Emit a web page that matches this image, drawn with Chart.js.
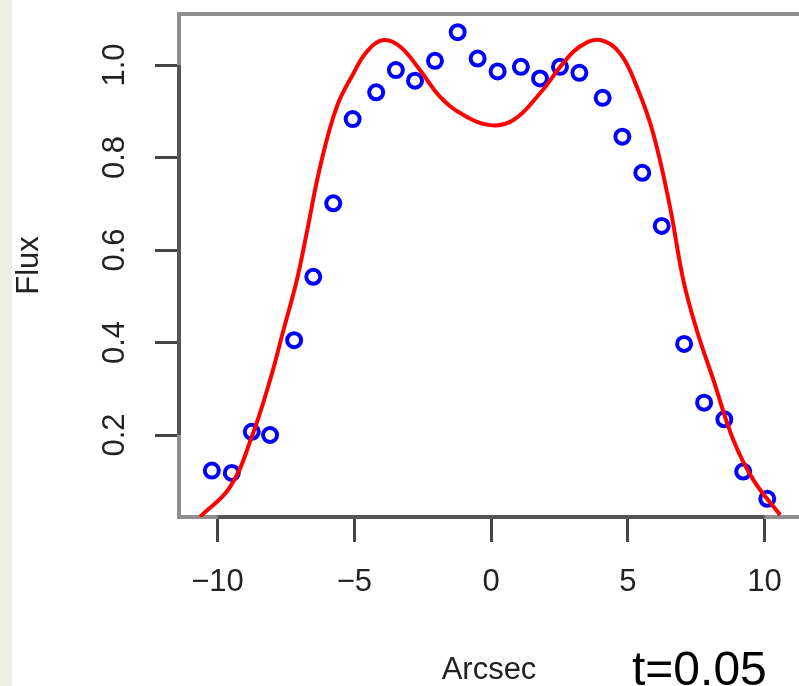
<!DOCTYPE html>
<html><head><meta charset="utf-8">
<script src="https://cdn.jsdelivr.net/npm/chart.js@4/dist/chart.umd.min.js"></script>
<style>html,body{margin:0;padding:0;background:#fff;overflow:hidden}canvas{display:block}</style>
</head><body>
<canvas id="c" width="799" height="686" style="width:799px;height:686px"></canvas>
<script>
// Observed flux (blue circles)
const pointX = [-10.21,-9.48,-8.75,-8.08,-7.20,-6.50,-5.77,-5.06,-4.20,-3.48,-2.78,-2.05,-1.22,-0.49,0.24,1.09,1.79,2.52,3.23,4.08,4.80,5.53,6.24,7.06,7.79,8.53,9.22,10.10];
const pointY = [0.123,0.118,0.207,0.200,0.405,0.542,0.701,0.883,0.941,0.989,0.966,1.009,1.071,1.014,0.986,0.996,0.971,0.996,0.983,0.929,0.845,0.767,0.652,0.397,0.270,0.234,0.121,0.062];
// Model curve (red line)
const curveX = [-10.64,-9.54,-8.75,-8.08,-7.59,-7.10,-6.74,-6.25,-5.64,-5.03,-4.54,-3.94,-3.33,-2.60,-1.86,-1.13,-0.04,0.82,1.79,2.64,3.25,3.99,4.72,5.33,5.93,6.54,7.03,7.52,8.13,8.86,9.59,10.57];
const curveY = [0.023,0.088,0.196,0.319,0.427,0.535,0.637,0.780,0.910,0.982,1.029,1.054,1.040,0.989,0.931,0.896,0.870,0.881,0.939,1.004,1.040,1.054,1.025,0.953,0.852,0.694,0.535,0.427,0.319,0.189,0.103,0.027];
const xTicks = [-10,-5,0,5,10];
const yTicks = [0.2,0.4,0.6,0.8,1.0];
const xRange = [-11.41, 11.26];
const yRange = [0.0227, 1.1103];
const xTitle = 'Arcsec';
const yTitle = 'Flux';
const note = 't=0.05';

const FONT = '"Liberation Sans", Arial, Helvetica, sans-serif';

const frame = {
  id: 'frame',
  beforeDraw(chart) {
    const {ctx, width, height} = chart;
    ctx.save();
    ctx.fillStyle = '#ffffff';
    ctx.fillRect(0, 0, width, height);
    ctx.fillStyle = '#eeeee7';
    ctx.fillRect(0, 0, 12, height);
    ctx.restore();
  },
  beforeDatasetsDraw(chart) {
    const {ctx, chartArea: a, scales: {x, y}} = chart;
    ctx.save();
    ctx.lineWidth = 4;
    ctx.strokeStyle = '#8f8f8f';
    ctx.beginPath();
    ctx.moveTo(a.right + 5, a.top);
    ctx.lineTo(a.left, a.top);
    ctx.lineTo(a.left, a.bottom);
    ctx.lineTo(a.right + 5, a.bottom);
    ctx.stroke();
    ctx.strokeStyle = '#555555';
    ctx.beginPath();
    ctx.moveTo(x.getPixelForValue(xTicks[0]), a.bottom);
    ctx.lineTo(x.getPixelForValue(xTicks[xTicks.length - 1]), a.bottom);
    ctx.moveTo(a.left, y.getPixelForValue(yTicks[0]));
    ctx.lineTo(a.left, y.getPixelForValue(yTicks[yTicks.length - 1]));
    ctx.stroke();
    ctx.restore();
  },
  afterDraw(chart) {
    const {ctx} = chart;
    ctx.save();
    ctx.font = '48px ' + FONT;
    ctx.fillStyle = '#000';
    ctx.textAlign = 'left';
    ctx.textBaseline = 'alphabetic';
    ctx.fillText(note, 632, 685);
    ctx.restore();
  }
};

new Chart(document.getElementById('c'), {
  type: 'scatter',
  data: {
    datasets: [
      {
        label: 'model',
        data: curveX.map((v, i) => ({x: v, y: curveY[i]})),
        showLine: true,
        borderColor: '#ff0000',
        borderWidth: 4,
        pointRadius: 0,
        tension: 0.4,
        fill: false
      },
      {
        label: 'flux',
        data: pointX.map((v, i) => ({x: v, y: pointY[i]})),
        showLine: false,
        pointStyle: 'circle',
        pointRadius: 7,
        pointBorderWidth: 4,
        pointBorderColor: '#0000ff',
        pointBackgroundColor: 'rgba(0,0,0,0)',
        borderColor: '#0000ff',
        backgroundColor: 'rgba(0,0,0,0)'
      }
    ]
  },
  options: {
    responsive: false,
    animation: false,
    devicePixelRatio: 1,
    layout: {autoPadding: false, padding: {left: 0, top: 14, right: 0, bottom: 0}},
    plugins: {legend: {display: false}, tooltip: {enabled: false}, title: {display: false}},
    scales: {
      x: {
        type: 'linear',
        min: xRange[0], max: xRange[1],
        afterBuildTicks(s) { s.ticks = xTicks.map(v => ({value: v})); },
        afterFit(s) { s.height = 169; s.paddingLeft = 0; s.paddingRight = 0; },
        grid: {drawOnChartArea: false, drawTicks: true, tickLength: 25, tickColor: '#444', tickWidth: 3},
        border: {display: false},
        ticks: {
          autoSkip: false, maxRotation: 0, padding: 22,
          color: '#222', font: {family: FONT, size: 31},
          callback: v => (v < 0 ? '\u2212' + Math.abs(v) : String(v))
        },
        title: {display: true, text: xTitle, color: '#222', font: {family: FONT, size: 31, lineHeight: 1}, padding: {top: 0, bottom: 0}}
      },
      y: {
        type: 'linear',
        min: yRange[0], max: yRange[1],
        afterBuildTicks(s) { s.ticks = yTicks.map(v => ({value: v})); },
        afterFit(s) { s.width = 179; s.paddingTop = 0; s.paddingBottom = 0; },
        grid: {drawOnChartArea: false, drawTicks: true, tickLength: 24, tickColor: '#444', tickWidth: 3},
        border: {display: false},
        ticks: {
          autoSkip: false, minRotation: 90, maxRotation: 90, crossAlign: 'center', padding: 18,
          color: '#222', font: {family: FONT, size: 31},
          callback: v => Number(v).toFixed(1)
        },
        title: {display: true, text: yTitle, color: '#222', font: {family: FONT, size: 31, lineHeight: 1}, padding: {top: 14, bottom: 0}}
      }
    }
  },
  plugins: [frame]
});
</script>
</body></html>
